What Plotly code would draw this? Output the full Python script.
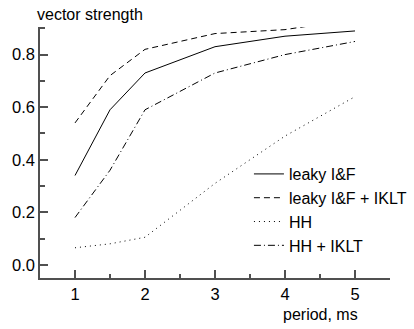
import plotly.graph_objects as go

periods = [1, 1.5, 2, 3, 4, 5]
leaky_if = [0.34, 0.59, 0.73, 0.83, 0.87, 0.89]
leaky_if_iklt = [0.54, 0.72, 0.82, 0.88, 0.895, 0.935]
hh = [0.065, 0.08, 0.105, 0.31, 0.49, 0.64]
hh_iklt = [0.18, 0.36, 0.59, 0.73, 0.80, 0.85]

names = ["leaky I&F", "leaky I&F + IKLT", "HH", "HH + IKLT"]
series = [leaky_if, leaky_if_iklt, hh, hh_iklt]
dashes = ["solid", "6px,4px", "1px,4px", "7px,3px,1px,3px"]

FONT = "Liberation Sans, Arial, sans-serif"

fig = go.Figure()
for n, s, d in zip(names, series, dashes):
    fig.add_trace(go.Scatter(x=periods, y=s, mode="lines", name=n,
                             line=dict(color="black", width=1, dash=d)))

axis_common = dict(showgrid=False, zeroline=False, showline=True, linecolor="#505050",
                   linewidth=1.5, ticks="inside", tickcolor="#505050", tickwidth=1.5,
                   ticklen=8, automargin=False,
                   tickfont=dict(family=FONT, size=16.5, color="black"))

fig.update_xaxes(range=[0.5, 5.5], tickvals=[1, 2, 3, 4, 5],
                 minor=dict(ticks="inside", ticklen=4, tickcolor="#505050", dtick=0.5, tick0=0.5),
                 **axis_common)
fig.update_yaxes(range=[-0.05, 0.905], tickvals=[0, 0.2, 0.4, 0.6, 0.8], tickformat=".1f",
                 minor=dict(ticks="inside", ticklen=5, tickcolor="#505050", dtick=0.1, tick0=0.1),
                 **axis_common)

fig.add_annotation(text="vector strength", xref="paper", yref="paper", x=-0.0143, y=1.048,
                   xanchor="left", yanchor="middle", showarrow=False,
                   font=dict(family=FONT, size=16, color="black"))
fig.add_annotation(text="period, ms", xref="paper", yref="paper", x=0.914, y=-0.147,
                   xanchor="right", yanchor="middle", showarrow=False,
                   font=dict(family=FONT, size=16, color="black"))

fig.update_layout(width=414, height=329,
                  margin=dict(l=40, r=24, t=27, b=51, autoexpand=False),
                  plot_bgcolor="white", paper_bgcolor="white",
                  legend=dict(x=0.597, y=0.482, xanchor="left", yanchor="top",
                              bgcolor="rgba(0,0,0,0)", tracegroupgap=0,
                              font=dict(family=FONT, size=16, color="black"),
                              itemwidth=30),
                  showlegend=True)

fig.write_html("out.html", config={"displayModeBar": False},
               post_script="document.body.style.margin='0';document.body.style.overflow='hidden';")
